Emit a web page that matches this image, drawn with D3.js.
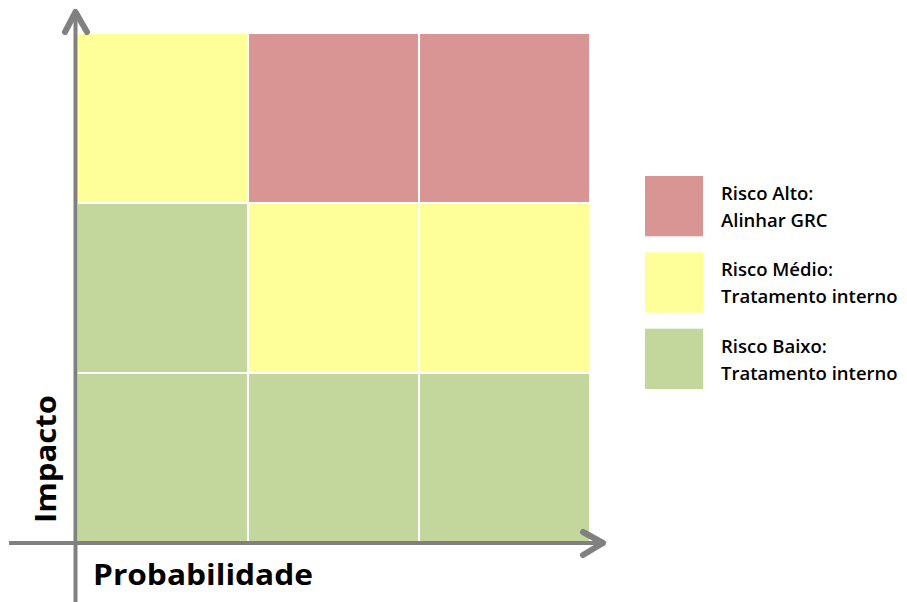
<!DOCTYPE html>
<html>
<head>
<meta charset="utf-8">
<script src="https://cdn.jsdelivr.net/npm/d3@7"></script>
<style>
  body { margin: 0; background: #fff; }
  svg { display: block; }
</style>
</head>
<body>
<div id="vis"></div>
<script>
// probabilidade (colunas) e impacto (linhas, de cima para baixo)
var probabilidade = ["Baixa", "Media", "Alta"];
var impacto = ["Alto", "Medio", "Baixo"];
// nivel de risco por linha de impacto
var riscoAlto = ["M", "A", "A"];
var riscoMedio = ["B", "M", "M"];
var riscoBaixo = ["B", "B", "B"];
var niveis = ["A", "M", "B"];
var legendaTitulos = ["Risco Alto:", "Risco Médio:", "Risco Baixo:"];
var legendaTextos = ["Alinhar GRC", "Tratamento interno", "Tratamento interno"];

var w = 907, h = 602;
var svg = d3.select("#vis").append("svg")
  .attr("width", w).attr("height", h);

var color = d3.scaleOrdinal()
  .domain(niveis)
  .range(["#D99594", "#FFFF99", "#C3D69B"]);

var x = d3.scaleBand().domain(probabilidade).range([78, 589]).paddingInner(0.012);
var y = d3.scaleBand().domain(impacto).range([34, 542]).paddingInner(0.012);

var linhas = [riscoAlto, riscoMedio, riscoBaixo];
var cells = [];
linhas.forEach(function(row, i) {
  row.forEach(function(v, j) {
    cells.push({imp: impacto[i], prob: probabilidade[j], nivel: v});
  });
});

svg.append("g").selectAll("rect")
  .data(cells).enter()
  .append("rect")
  .attr("x", function(d) { return x(d.prob); })
  .attr("y", function(d) { return y(d.imp); })
  .attr("width", x.bandwidth())
  .attr("height", y.bandwidth())
  .attr("fill", function(d) { return color(d.nivel); });

// eixos com setas
var grey = "#808080";
var axes = svg.append("g")
  .attr("stroke", grey).attr("fill", "none")
  .attr("stroke-width", 4).attr("stroke-linecap", "round").attr("stroke-linejoin", "round");
axes.append("line").attr("x1", 75.5).attr("y1", 602).attr("x2", 75.5).attr("y2", 13).attr("stroke-linecap", "butt");
axes.append("path").attr("d", "M65,32 L75.5,12 L87,32").attr("stroke-width", 6);
axes.append("line").attr("x1", 9).attr("y1", 543).attr("x2", 602).attr("y2", 543).attr("stroke-linecap", "butt");
axes.append("path").attr("d", "M583,532 L603,543 L583,555").attr("stroke-width", 6);

svg.append("text")
  .attr("x", 93).attr("y", 585)
  .attr("font-family", "Open Sans, sans-serif")
  .attr("font-weight", "bold").attr("font-size", 28)
  .attr("textLength", 220).attr("lengthAdjust", "spacingAndGlyphs")
  .text("Probabilidade");

svg.append("text")
  .attr("transform", "translate(56,523) rotate(-90)")
  .attr("font-family", "Open Sans, sans-serif")
  .attr("font-weight", "bold").attr("font-size", 28)
  .attr("textLength", 128).attr("lengthAdjust", "spacingAndGlyphs")
  .text("Impacto");

// legenda
var ly = d3.scaleBand().domain(niveis).range([176, 389]).paddingInner(0.21);
var leg = svg.append("g").selectAll("g")
  .data(niveis).enter().append("g")
  .attr("transform", function(d) { return "translate(645," + ly(d) + ")"; });
leg.append("rect")
  .attr("width", 58).attr("height", ly.bandwidth())
  .attr("fill", function(d) { return color(d); });
leg.append("text")
  .attr("x", 76).attr("y", 24)
  .attr("font-family", "Open Sans, sans-serif")
  .attr("font-weight", 600).attr("font-size", 18.5)
  .text(function(d, i) { return legendaTitulos[i]; });
leg.append("text")
  .attr("x", 76).attr("y", 51)
  .attr("font-family", "Open Sans, sans-serif")
  .attr("font-weight", 600).attr("font-size", 18.5)
  .text(function(d, i) { return legendaTextos[i]; });
</script>
</body>
</html>
